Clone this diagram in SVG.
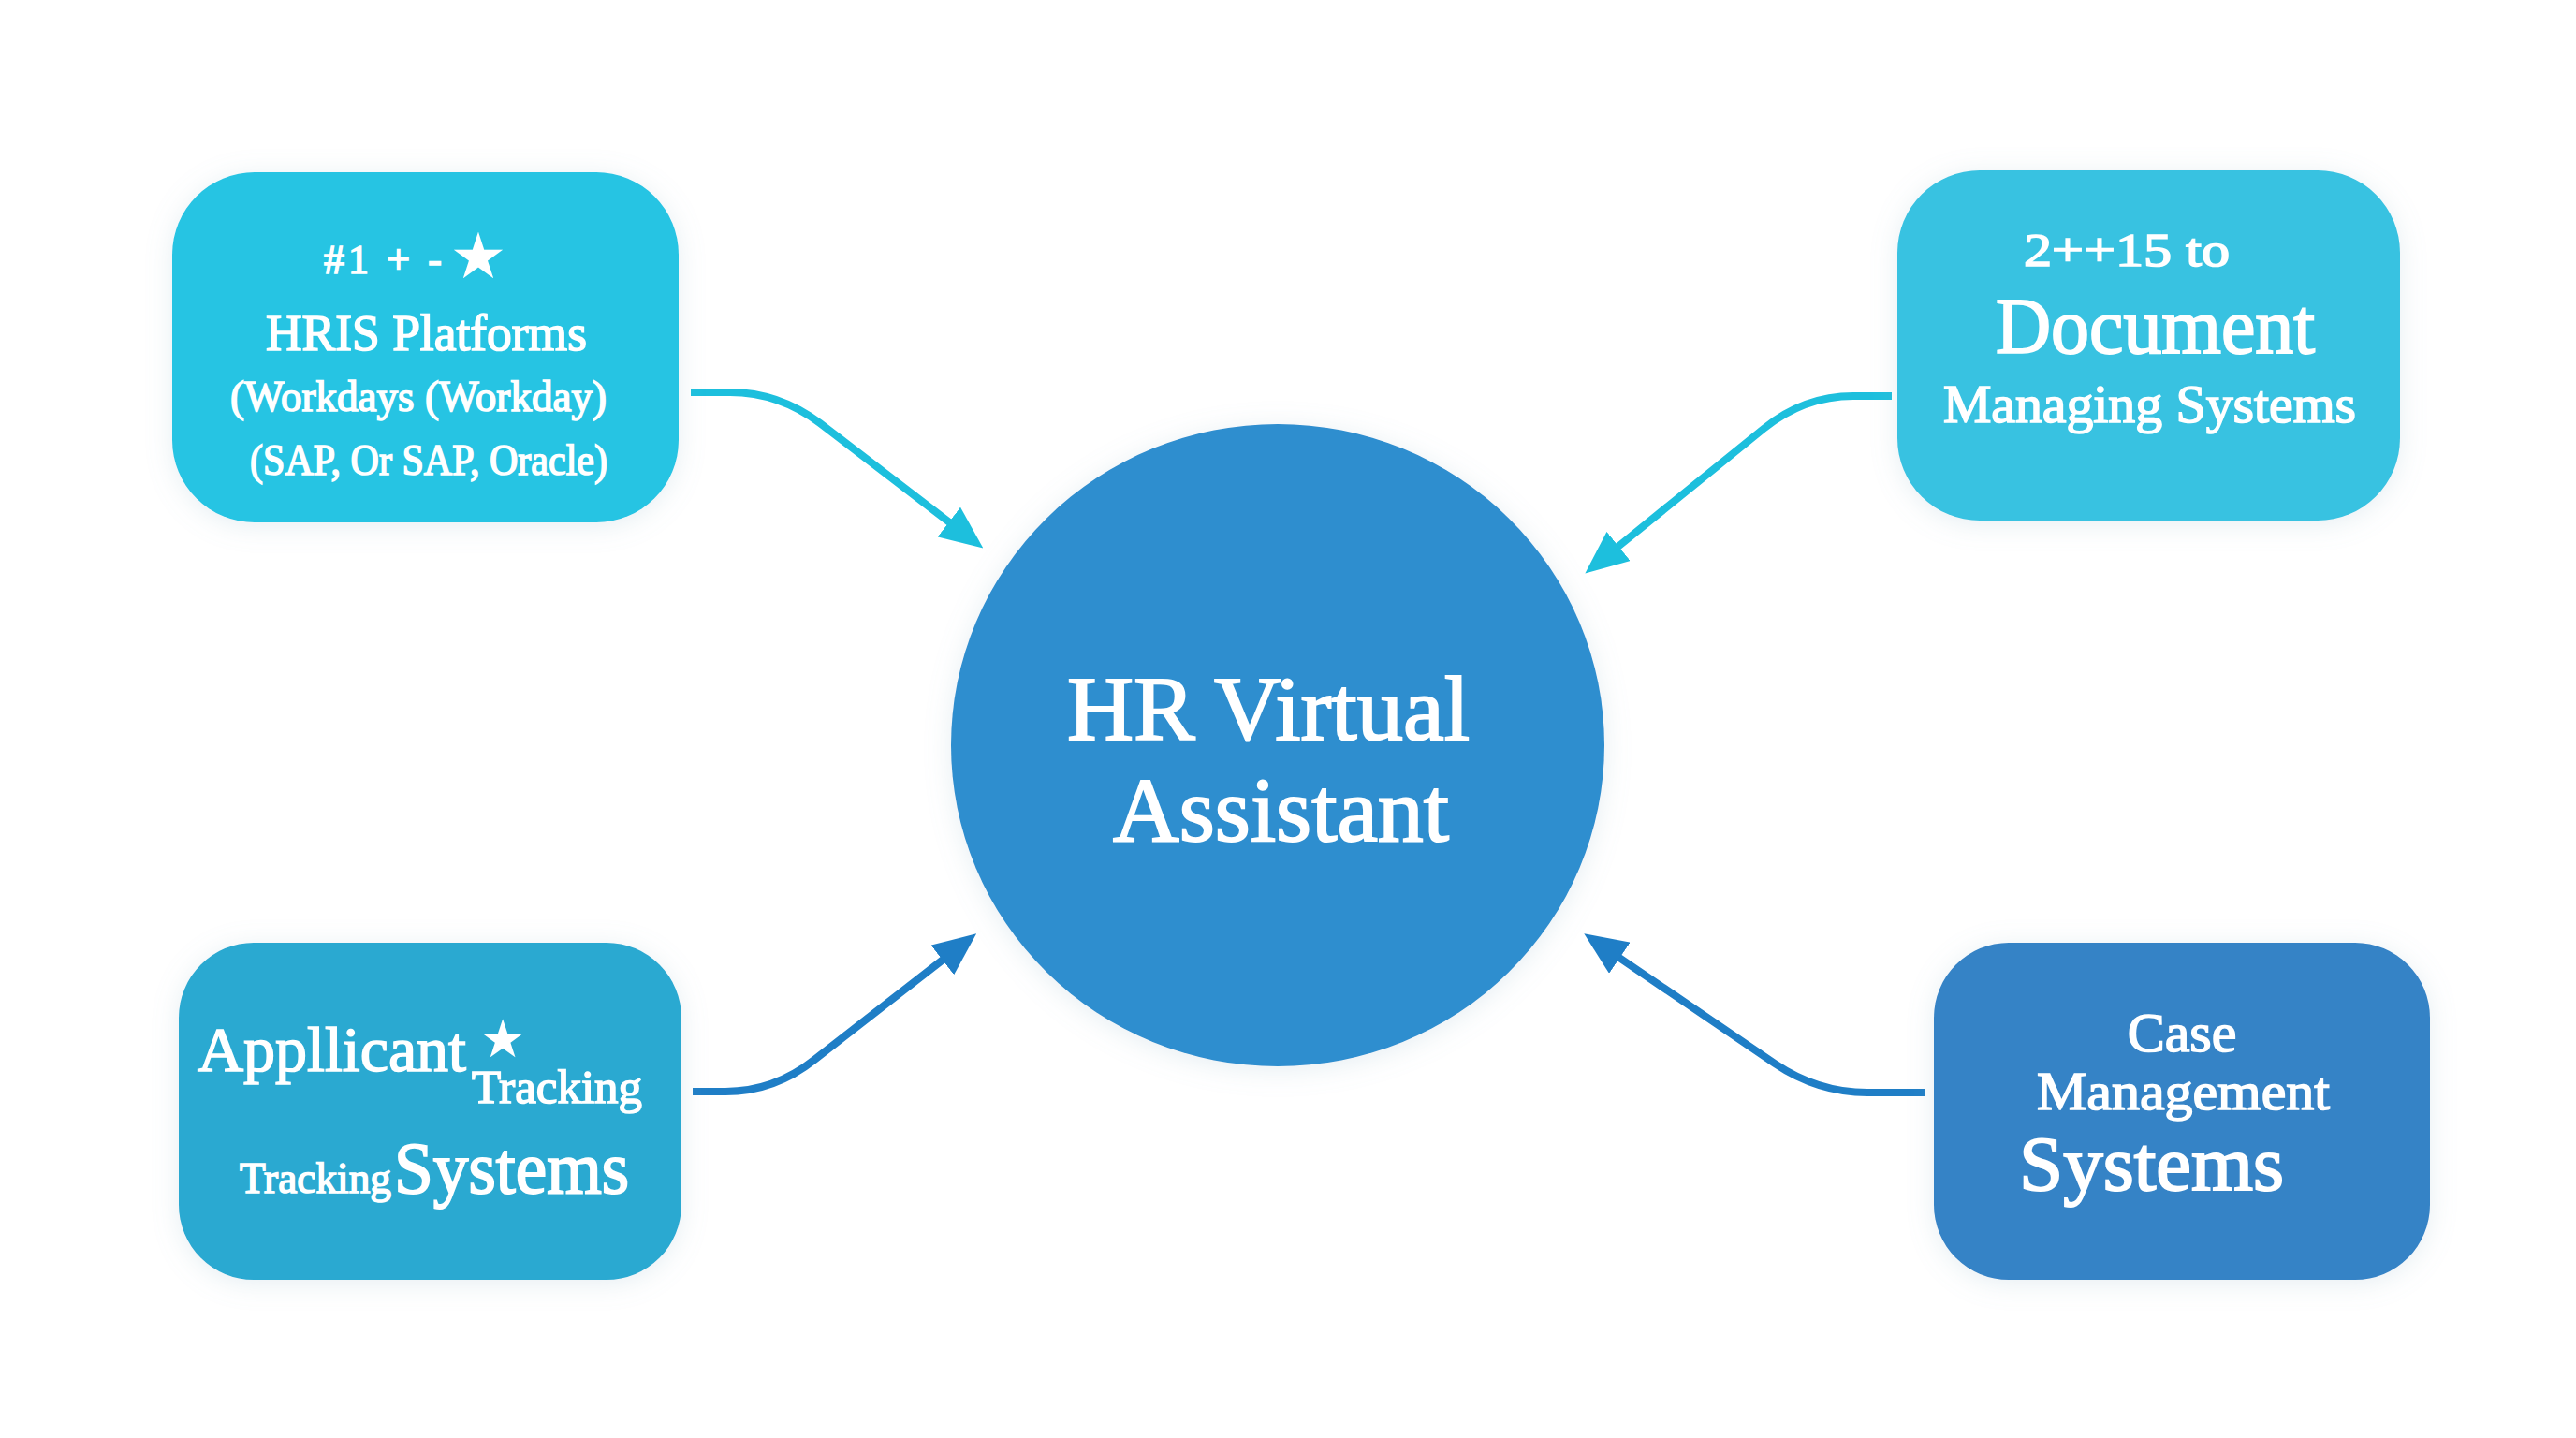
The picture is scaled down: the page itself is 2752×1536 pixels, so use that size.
<svg xmlns="http://www.w3.org/2000/svg" width="2752" height="1536" viewBox="0 0 2752 1536">
<defs>
<filter id="glow" x="-20%" y="-20%" width="140%" height="140%">
<feDropShadow dx="0" dy="4" stdDeviation="14" flood-color="#8fb3c6" flood-opacity="0.22"/>
</filter>
<marker id="ahCyan" viewBox="0 0 46 40" refX="4" refY="20" markerWidth="46" markerHeight="40" markerUnits="userSpaceOnUse" orient="auto">
<path d="M0,0 L46,20 L0,40 Z" fill="#1DBFDD"/>
</marker>
<marker id="ahBlue" viewBox="0 0 46 40" refX="4" refY="20" markerWidth="46" markerHeight="40" markerUnits="userSpaceOnUse" orient="auto">
<path d="M0,0 L46,20 L0,40 Z" fill="#1F7EC6"/>
</marker>
</defs>
<style>
.t{font-family:"Liberation Serif","Times New Roman",serif;fill:#ffffff;stroke:#ffffff;stroke-width:1.6;paint-order:stroke;}
.big{stroke-width:2;}
.m{text-anchor:middle;}
.star{font-family:"DejaVu Sans",sans-serif;fill:#ffffff;text-anchor:middle;}
.conn{fill:none;stroke-width:8;stroke-linejoin:round;}
</style>
<rect width="2752" height="1536" fill="#ffffff"/>

<g id="connectors">
<path class="conn" stroke="#1DBFDD" marker-end="url(#ahCyan)" d="M738,419 L780,419 Q832,419 876,452 L1017,560"/>
<path class="conn" stroke="#1DBFDD" marker-end="url(#ahCyan)" d="M2021,423 L1980,423 Q1927,423 1884,458 L1726,586"/>
<path class="conn" stroke="#1F7EC6" marker-end="url(#ahBlue)" d="M740,1166 L775,1166 Q827,1166 870,1132 L1010,1023"/>
<path class="conn" stroke="#1F7EC6" marker-end="url(#ahBlue)" d="M2057,1167 L1995,1167 Q1942,1167 1896,1136 L1727,1021"/>
</g>

<g id="hr-virtual-assistant">
<ellipse cx="1365" cy="796" rx="349" ry="343" fill="#2F8ECF" filter="url(#glow)"/>
<text class="t big" x="1140" y="790" font-size="98" textLength="430" lengthAdjust="spacingAndGlyphs">HR<tspan dx="28">Virtual</tspan></text>
<text class="t big" x="1189" y="898" font-size="98" textLength="359" lengthAdjust="spacingAndGlyphs">Assistant</text>
</g>

<g id="hris-platforms">
<rect x="184" y="184" width="541" height="374" rx="88" fill="#27C4E3" filter="url(#glow)"/>
<text class="t" x="346" y="292" font-size="44" textLength="126" lengthAdjust="spacing">#1 + -</text>
<text class="star" x="511" y="297" font-size="68">★</text>
<text class="t" x="284" y="374" font-size="54" textLength="343" lengthAdjust="spacingAndGlyphs">HRIS Platforms</text>
<text class="t" x="246" y="439" font-size="46" textLength="402" lengthAdjust="spacingAndGlyphs">(Workdays (Workday)</text>
<text class="t" x="267" y="507" font-size="46" textLength="382" lengthAdjust="spacingAndGlyphs">(SAP, Or SAP, Oracle)</text>
</g>

<g id="document-managing-systems">
<rect x="2027" y="182" width="537" height="374" rx="88" fill="#38C2E1" filter="url(#glow)"/>
<text class="t" x="2162" y="284" font-size="50" textLength="220" lengthAdjust="spacingAndGlyphs">2++15 to</text>
<text class="t big" x="2132" y="377" font-size="84" textLength="341" lengthAdjust="spacingAndGlyphs">Document</text>
<text class="t" x="2076" y="451" font-size="56" textLength="441" lengthAdjust="spacingAndGlyphs">Managing Systems</text>
</g>

<g id="applicant-tracking-systems">
<rect x="191" y="1007" width="537" height="360" rx="80" fill="#2BA9D1" filter="url(#glow)"/>
<text class="t" x="211" y="1144" font-size="68" textLength="287" lengthAdjust="spacingAndGlyphs">Appllicant</text>
<text class="star" x="537" y="1129" font-size="56">★</text>
<text class="t" x="504" y="1178" font-size="50" textLength="182" lengthAdjust="spacingAndGlyphs">Tracking</text>
<text class="t" x="256" y="1274" font-size="46" textLength="162" lengthAdjust="spacingAndGlyphs">Tracking</text>
<text class="t big" x="421" y="1274" font-size="78" textLength="251" lengthAdjust="spacingAndGlyphs">Systems</text>
</g>

<g id="case-management-systems">
<rect x="2066" y="1007" width="530" height="360" rx="80" fill="#3583C6" filter="url(#glow)"/>
<text class="t m" x="2331" y="1123" font-size="60">Case</text>
<text class="t" x="2176" y="1185" font-size="58" textLength="313" lengthAdjust="spacingAndGlyphs">Management</text>
<text class="t big" x="2157" y="1271" font-size="82" textLength="283" lengthAdjust="spacingAndGlyphs">Systems</text>
</g>
</svg>
